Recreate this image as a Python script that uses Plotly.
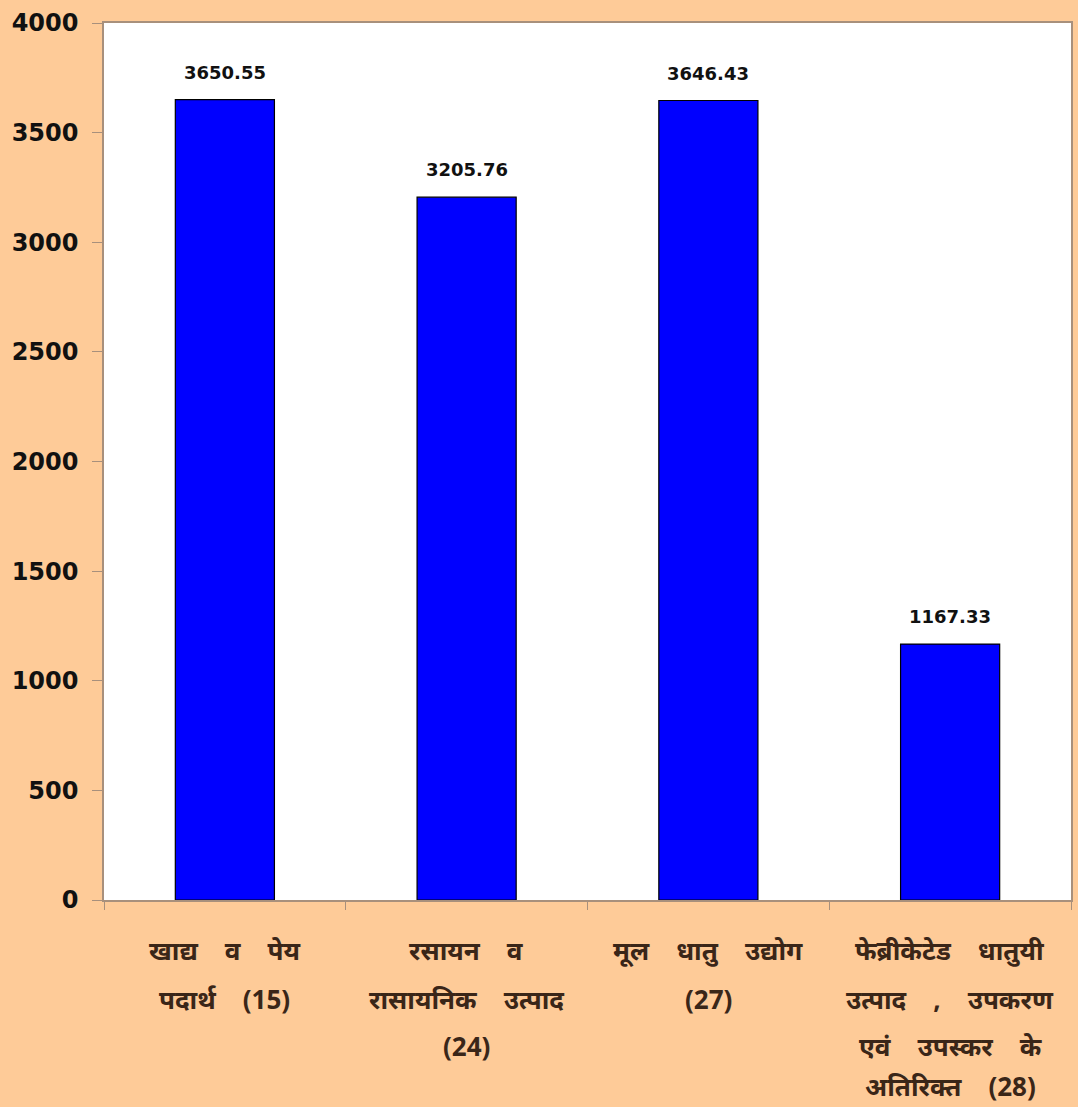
import plotly.graph_objects as go

categories = ["c15", "c24", "c27", "c28"]
values = [3650.55, 3205.76, 3646.43, 1167.33]
value_labels = ["3650.55", "3205.76", "3646.43", "1167.33"]
category_lines = [
    ["खाद्य  व  पेय", "पदार्थ  (15)"],
    ["रसायन  व", "रासायनिक  उत्पाद", "(24)"],
    ["मूल  धातु  उद्योग", "(27)"],
    ["फेब्रीकेटेड  धातुयी", "उत्पाद  ,  उपकरण", "एवं  उपस्कर  के", "अतिरिक्त  (28)"],
]
y_ticks = [0, 500, 1000, 1500, 2000, 2500, 3000, 3500, 4000]

BG = "#FECB98"
AX = "#A8907C"
TXT = "#3A2618"
NUMFONT = "DejaVu Sans, Liberation Sans, Arial"
LINE_SHIFTS = [-50, -99, -146, -186]

fig = go.Figure()
fig.add_trace(go.Bar(
    x=categories, y=values,
    marker=dict(color="#0000FF", line=dict(color="#000000", width=1.2)),
    width=0.41,
    hoverinfo="skip",
))

for c, v, t in zip(categories, values, value_labels):
    fig.add_annotation(x=c, y=v, text=t, showarrow=False, yanchor="bottom", yshift=15,
                       font=dict(family=NUMFONT, size=18, color="#111111", weight="bold"))

for c, lines in zip(categories, category_lines):
    for i, line in enumerate(lines):
        fig.add_annotation(x=c, y=0, xref="x", yref="y",
                           text=line.replace("  ", "\u00a0\u00a0\u00a0\u00a0"),
                           showarrow=False, yanchor="middle", yshift=LINE_SHIFTS[i],
                           font=dict(family="Noto Sans, sans-serif", size=26, color=TXT, weight="bold"))

fig.update_layout(
    width=1078, height=1107,
    paper_bgcolor=BG, plot_bgcolor="#FFFFFF",
    margin=dict(l=104, r=5, t=23, b=207),
    showlegend=False, bargap=0.59,
    font=dict(family=NUMFONT, color="#111111"),
)
fig.update_xaxes(showticklabels=False, ticks="outside", tickson="boundaries", ticklen=8,
                 tickcolor=AX, showline=True, linecolor=AX, linewidth=1.5, mirror=True,
                 showgrid=False)
fig.update_yaxes(range=[0, 4000], tickvals=y_ticks, ticks="outside", ticklen=10, tickcolor=AX,
                 showline=True, linecolor=AX, linewidth=1.5, mirror=True, showgrid=False,
                 zeroline=False, ticklabelstandoff=9,
                 tickfont=dict(family=NUMFONT, size=24, color="#111111", weight="bold"))

fig.write_html("out.html", config={"displayModeBar": False},
               post_script="document.body.style.margin='0';document.body.style.background='#FECB98';")
